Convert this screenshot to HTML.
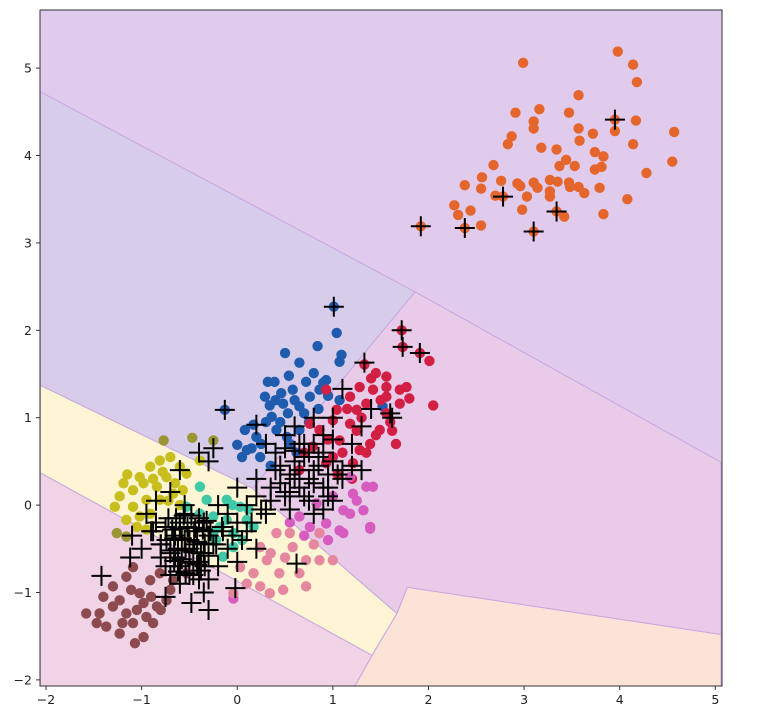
<!DOCTYPE html>
<html><head><meta charset="utf-8"><style>
html,body{margin:0;padding:0;background:#fff;width:757px;height:726px;overflow:hidden}
svg text{font-family:"DejaVu Sans","Liberation Sans",sans-serif;font-size:12.5px;fill:#222}
</style></head><body>
<svg id="chart" width="757" height="726" xmlns="http://www.w3.org/2000/svg"></svg>
<script>
const xTicks=[-2,-1,0,1,2,3,4,5];
const yTicks=[-2,-1,0,1,2,3,4,5];
const regionNames=['blue-region','yellow-band','peach-region','lower-pink-region','middle-pink-region'];
const regionColors=['#d7cdea','#fdf5d3','#fbe3d8','#f1d3e6','#e8cbe8'];
const regionX=[[-2.06,1.86,0.16,-2.06],[-2.06,0.16,1.67,1.41,-2.06],[1.78,5.06,5.06,1.23,1.41,1.67],[-2.06,1.41,1.23,-2.06],[1.86,5.06,5.06,1.78,1.67,0.16]];
const regionY=[[4.73,2.44,0.19,1.37],[1.37,0.19,-1.24,-1.72,0.37],[-0.94,-1.48,-2.07,-2.07,-1.72,-1.24],[0.37,-1.72,-2.07,-2.07],[2.44,0.49,-1.48,-0.94,-1.24,0.19]];
const classNames=['orange','blue','red','magenta','yellow','olive','brown','teal','pink'];
const classColors=['#e4662c','#1f5cad','#d21f44','#d65dbf','#c8bf1f','#9b9535','#8d4b50','#3fc9a8','#e4879f'];
const orangeX=[3.98,4.14,4.18,2.99,3.57,2.91,3.16,3.47,3.10,3.10,3.57,3.72,3.95,4.17,4.57,2.87,2.83,3.18,3.34,3.58,4.14,3.74,3.83,3.44,3.37,3.53,3.74,3.81,4.55,4.28,2.68,2.38,2.56,2.55,2.76,2.70,2.93,2.96,3.10,3.14,3.27,3.35,3.47,3.57,3.63,3.48,3.27,3.27,3.03,3.79,4.08,2.27,2.31,2.44,2.55,2.98,3.42,3.83,1.92,2.38,3.10,3.34,3.95,2.78];
const orangeY=[5.19,5.04,4.84,5.06,4.69,4.49,4.53,4.49,4.39,4.31,4.31,4.25,4.28,4.40,4.27,4.22,4.13,4.09,4.07,4.17,4.13,4.04,3.99,3.95,3.88,3.88,3.84,3.87,3.93,3.80,3.89,3.66,3.75,3.62,3.71,3.54,3.68,3.65,3.69,3.63,3.72,3.70,3.69,3.64,3.57,3.64,3.59,3.53,3.53,3.63,3.50,3.43,3.32,3.37,3.20,3.38,3.30,3.33,3.19,3.17,3.13,3.36,4.41,3.53];
const blueX=[1.01,1.04,0.84,0.50,0.65,1.09,1.07,0.80,0.54,0.32,0.39,0.72,0.93,0.29,0.46,0.58,0.76,0.34,0.48,-0.13,0.17,0.08,0.00,0.36,0.53,0.65,0.86,1.07,0.20,0.41,0.10,0.24,0.52,0.65,1.52,0.40,0.60,0.70,0.85,0.95,0.30,0.45,0.25,0.15,0.55,0.75,0.62,0.35,0.90,0.05];
const blueY=[2.27,1.97,1.82,1.74,1.63,1.72,1.64,1.51,1.48,1.41,1.41,1.41,1.43,1.24,1.28,1.32,1.24,1.14,1.16,1.09,0.92,0.86,0.69,1.01,1.05,1.13,1.32,1.20,0.78,0.86,0.63,0.55,0.78,0.86,1.13,1.20,1.20,1.05,1.10,1.25,0.95,0.95,0.70,0.65,0.70,0.95,0.60,0.45,1.40,0.55];
const redX=[1.72,1.73,1.91,2.01,1.33,1.45,2.05,1.80,1.70,1.56,1.42,1.28,1.18,0.93,1.35,1.56,1.70,1.49,1.66,1.39,1.18,1.00,1.28,1.07,0.86,0.76,1.21,1.00,1.56,1.77,1.25,1.04,0.79,0.93,0.65,1.56,1.40,1.50,1.60,1.30,1.15,1.45,1.35,1.10,1.62,1.25,0.95,0.70,1.05,1.20];
const redY=[2.00,1.81,1.74,1.65,1.61,1.51,1.14,1.22,1.32,1.35,1.32,1.35,1.24,1.32,1.16,1.05,1.16,0.86,0.70,0.70,0.93,0.97,0.63,0.74,0.86,0.93,0.48,0.55,1.47,1.35,1.09,1.09,0.67,0.48,0.40,1.24,1.45,1.20,0.95,1.00,1.10,0.80,0.60,0.60,0.85,0.85,0.75,0.60,0.35,0.30];
const magentaX=[1.35,1.42,1.21,1.32,1.39,1.11,0.93,1.07,0.83,0.65,1.18,0.76,1.39,1.18,1.11,0.86,-0.04,1.00,0.95,1.25,0.70,0.55];
const magentaY=[0.21,0.21,0.13,-0.06,-0.25,-0.06,-0.21,-0.29,0.02,-0.13,0.32,-0.25,-0.27,-0.10,-0.32,-0.32,-1.07,0.10,-0.40,0.05,-0.35,-0.20];
const yellowX=[-1.19,-1.28,-1.09,-1.02,-0.91,-0.81,-0.70,-1.09,-0.95,-0.84,-0.74,-0.60,-0.53,-1.02,-0.91,-0.81,-0.67,-1.16,-0.57,-0.39,-1.23,-1.15,-0.98,-0.88,-0.78,-0.65,-0.72,-1.05,-0.95,-0.60];
const yellowY=[0.25,-0.02,0.17,0.32,0.44,0.51,0.55,-0.02,0.06,0.21,0.32,0.44,0.36,-0.13,-0.10,0.06,0.13,-0.17,0.17,0.51,0.10,0.35,0.25,0.30,0.38,0.25,0.05,-0.25,-0.28,0.00];
const oliveX=[-0.77,-0.47,-0.25,-1.26,-1.16];
const oliveY=[0.74,0.77,0.74,-0.32,-0.36];
const brownX=[-1.58,-1.47,-1.40,-1.30,-1.16,-1.09,-1.23,-1.02,-0.91,-0.81,-1.37,-1.23,-1.07,-0.98,-1.09,-0.95,-0.88,-0.84,-0.74,-0.70,-1.16,-1.30,-1.44,-0.98,-0.67,-0.53,-1.11,-1.20,-1.05,-0.90,-0.80];
const brownY=[-1.24,-1.35,-1.05,-0.93,-0.82,-0.71,-1.09,-1.01,-0.86,-0.78,-1.39,-1.47,-1.58,-1.51,-1.35,-1.28,-1.35,-1.16,-1.09,-0.97,-1.24,-1.16,-1.24,-1.12,-0.86,-0.78,-0.97,-1.35,-1.20,-1.05,-1.20];
const tealX=[-0.25,-0.18,-0.11,-0.04,-0.22,-0.04,-0.15,-0.32,-0.39,0.03,0.10,0.17,-0.11,-0.25,-0.39,-0.53,0.05,-0.05,0.12];
const tealY=[-0.13,-0.25,-0.17,-0.32,-0.40,-0.48,-0.59,0.06,0.21,-0.02,-0.17,-0.25,0.06,-0.32,-0.10,-0.02,-0.40,0.00,-0.05];
const pinkX=[0.03,0.17,0.31,0.44,0.58,0.72,0.72,0.86,1.00,0.34,0.48,0.24,0.41,0.55,0.24,0.10,0.86,0.65,-0.04,0.35,0.50,0.80];
const pinkY=[-0.71,-0.78,-0.63,-0.78,-0.48,-0.63,-0.93,-0.63,-0.63,-1.01,-0.97,-0.48,-0.32,-0.32,-0.93,-0.90,-0.32,-0.78,-1.01,-0.55,-0.60,-0.45];
const crossX=[3.95,2.78,3.34,3.10,2.38,1.92,1.01,1.72,1.73,1.91,1.33,1.10,1.40,1.60,1.62,-0.13,0.20,-0.25,-0.40,-0.30,-1.42,-1.12,-0.75,-0.48,-0.30,0.62,-0.02,0.00,1.30,1.10,1.20,0.80,0.90,1.00,0.70,0.90,0.50,0.30,0.60,0.40,0.20,0.00,-0.20,0.50,0.30,0.10,0.20,-0.10,0.60,0.80,1.00,0.90,0.70,1.20,1.30,1.00,0.80,0.60,-0.60,-0.70,-0.85,-0.95,-1.10,-1.00,-0.90,-0.80,-0.70,-0.60,-0.40,-0.35,-0.20,-0.55,-0.45,-0.50,-0.65,-0.35,-0.60,-0.40,-0.70,-0.30,-0.50,-0.75,-0.45,-0.55,-0.25,-0.65,-0.35,-0.50,-0.80,-0.40,-0.60,-0.30,-0.15,-0.10,0.05,0.15,0.35,0.45,0.55,0.25,0.75,0.85,0.95,1.05,0.65,-0.85,-0.75,-0.55,
-0.72,-0.64,-0.56,-0.48,-0.40,-0.32,-0.68,-0.60,-0.52,-0.44,-0.36,-0.28,-0.74,-0.66,-0.58,-0.50,-0.42,-0.34,-0.70,-0.62,-0.54,-0.46,-0.38,-0.30,-0.66,-0.58,-0.50,-0.42,-0.34,-0.62,-0.54,-0.46,-0.38,-0.80,-0.88,-0.22,-0.16,
0.40,0.50,0.60,0.70,0.80,0.90,1.00,0.45,0.55,0.65,0.75,0.85,0.95,0.35,0.50,0.65,0.80,0.95,1.10,0.30,0.55,0.75,0.20,0.10,0.00,-0.05];
const crossY=[4.41,3.53,3.36,3.13,3.17,3.19,2.27,2.00,1.81,1.74,1.63,1.33,1.10,1.05,1.00,1.09,0.92,0.65,0.60,0.50,-0.81,-0.60,-1.05,-1.12,-1.20,-0.67,-0.95,-0.65,0.40,0.30,0.45,-0.10,-0.05,0.05,0.70,0.80,0.80,0.70,0.50,0.40,0.30,0.20,0.00,0.10,-0.10,-0.30,-0.50,-0.50,0.30,0.40,0.50,0.20,0.10,0.70,0.90,1.00,1.00,0.90,0.40,0.15,0.05,-0.10,-0.35,-0.50,-0.30,-0.60,-0.80,-0.90,-0.85,-1.00,-0.70,-0.40,-0.30,-0.50,-0.35,-0.55,-0.20,-0.20,-0.55,-0.35,-0.65,-0.25,-0.45,-0.10,-0.45,-0.60,-0.20,-0.80,-0.45,-0.65,-0.70,-0.85,-0.30,-0.10,-0.40,-0.20,0.05,0.25,0.15,-0.05,0.60,0.55,0.20,0.35,0.70,-0.20,-0.70,0.00,
-0.15,-0.15,-0.12,-0.12,-0.15,-0.18,-0.28,-0.27,-0.25,-0.26,-0.28,-0.30,-0.40,-0.38,-0.38,-0.40,-0.42,-0.44,-0.52,-0.50,-0.52,-0.54,-0.55,-0.58,-0.64,-0.62,-0.66,-0.68,-0.70,-0.76,-0.78,-0.80,-0.75,-0.45,-0.30,-0.45,-0.25,
0.60,0.65,0.62,0.55,0.70,0.60,0.75,0.45,0.35,0.40,0.30,0.45,0.35,0.20,0.15,0.20,0.25,0.10,0.40,-0.05,-0.05,0.05,0.10,0.00,-0.20,-0.35];

const L=40,R=722,T=10,B=686,X0=-2.063,X1=5.07,Y0=-2.07,Y1=5.665;
const sx=v=>L+(v-X0)/(X1-X0)*(R-L);
const sy=v=>B-(v-Y0)/(Y1-Y0)*(B-T);
const svg=document.getElementById('chart');
const NS='http://www.w3.org/2000/svg';
function mk(tag,attrs,parent){const e=document.createElementNS(NS,tag);for(const k in attrs)e.setAttribute(k,attrs[k]);(parent||svg).appendChild(e);return e;}

const clip=mk('clipPath',{id:'pc'});mk('rect',{x:L,y:T,width:R-L,height:B-T},clip);
const bg=mk('rect',{x:L,y:T,width:R-L,height:B-T,fill:'#e0cbed'});


const rg=mk('g',{'clip-path':'url(#pc)'});
regionX.forEach((xs,i)=>{
  const pts=xs.map((x,j)=>sx(x)+','+sy(regionY[i][j])).join(' ');
  const p=mk('polygon',{points:pts,fill:regionColors[i],stroke:'#c9a6e0','stroke-width':1},rg);
  
  
});
const classes=[[orangeX,orangeY],[blueX,blueY],[redX,redY],[magentaX,magentaY],[yellowX,yellowY],[oliveX,oliveY],[brownX,brownY],[tealX,tealY],[pinkX,pinkY]];
const pg=mk('g',{'clip-path':'url(#pc)'});
classes.forEach((c,i)=>{
  c[0].forEach((x,j)=>{
    const d=mk('circle',{cx:sx(x),cy:sy(c[1][j]),r:5.2,fill:classColors[i]},pg);
    
    
  });
});
crossX.forEach((x,j)=>{
  const cx=sx(x),cy=sy(crossY[j]);
  const c=mk('path',{d:`M${cx-10},${cy}H${cx+10}M${cx},${cy-10}V${cy+10}`,stroke:'#000','stroke-width':2,fill:'none'},pg);
  
  
});
const frame=mk('rect',{x:L,y:T,width:R-L,height:B-T,fill:'none',stroke:'#333','stroke-width':1});


xTicks.forEach(v=>{
  const x=sx(v);
  mk('line',{x1:x,x2:x,y1:B,y2:B+4,stroke:'#333'});
  const t=mk('text',{x:x,y:B+18,'text-anchor':'middle'});t.textContent=v<0?'\u2212'+(-v):v;
  
  
});
yTicks.forEach(v=>{
  const y=sy(v);
  mk('line',{x1:L-4,x2:L,y1:y,y2:y,stroke:'#333'});
  const t=mk('text',{x:L-8,y:y+4.5,'text-anchor':'end'});t.textContent=v<0?'\u2212'+(-v):v;
  
  
});
</script>
</body></html>
